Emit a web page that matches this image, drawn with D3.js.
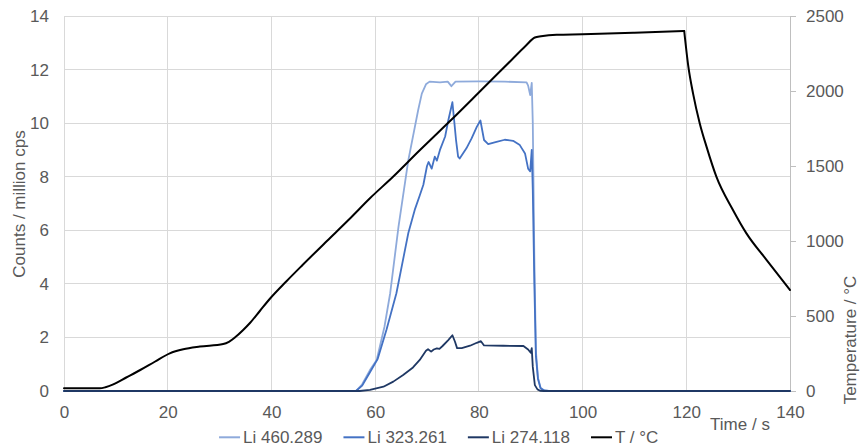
<!DOCTYPE html>
<html>
<head>
<meta charset="utf-8">
<script src="https://cdn.jsdelivr.net/npm/d3@7/dist/d3.min.js"></script>
<style>
  html, body { margin: 0; padding: 0; background: #fff; }
  svg { display: block; font-family: "Liberation Sans", Arial, sans-serif; }
</style>
</head>
<body>
<svg id="chart" width="860" height="446"></svg>
<script>
// Li emission intensities (million cps) and furnace temperature (°C) versus time (s)
const li460 = [[0,0],[56.3,0],[57.5,0.25],[59.0,0.78],[60.3,1.16],[61.8,2.4],[62.9,3.65],[64.5,6.13],[66.4,8.62],[68.3,10.49],[69.0,11.1],[69.8,11.45],[70.5,11.55],[72.5,11.52],[74.0,11.55],[74.7,11.38],[75.5,11.55],[80,11.56],[85,11.55],[89.2,11.52],[89.5,11.4],[89.9,11.05],[90.2,11.5],[90.4,10.0],[90.7,5.0],[91.0,1.5],[91.4,0.5],[91.9,0.12],[92.6,0.02],[93.5,0],[140,0]];

const li323 = [[0,0],[56.3,0],[57.5,0.2],[59.0,0.7],[60.5,1.2],[62.2,2.3],[64.1,3.65],[66.4,5.9],[67.7,6.8],[68.6,7.3],[69.3,7.7],[70.0,8.4],[70.3,8.55],[70.9,8.3],[71.5,8.75],[71.9,8.6],[72.5,9.0],[73.5,9.5],[74.1,10.1],[74.9,10.78],[75.2,10.18],[75.6,9.37],[76.0,8.75],[76.3,8.68],[77.6,9.06],[78.6,9.43],[79.6,9.86],[80.3,10.1],[81.0,9.37],[81.8,9.22],[83.4,9.3],[85.0,9.38],[86.6,9.34],[87.9,9.18],[88.9,8.87],[89.5,8.3],[89.9,8.2],[90.2,9.0],[90.4,7.5],[90.7,4.0],[91.0,1.3],[91.4,0.45],[91.9,0.1],[92.6,0.02],[93.5,0],[140,0]];

const li274 = [[0,0],[57,0],[59.0,0.04],[61.6,0.16],[63.5,0.35],[65.4,0.6],[67.3,0.88],[68.6,1.16],[69.8,1.5],[70.2,1.56],[70.8,1.47],[71.3,1.55],[71.9,1.59],[72.4,1.57],[73.0,1.68],[74.1,1.9],[74.9,2.08],[75.4,1.84],[75.8,1.6],[76.7,1.6],[78.3,1.69],[79.6,1.8],[80.4,1.86],[81.0,1.7],[84.7,1.69],[88.6,1.68],[89.5,1.55],[90.0,1.43],[90.2,1.6],[90.4,0.9],[90.8,0.22],[91.3,0.06],[91.8,0.01],[92.5,0],[140,0]];

const temperature = [[0,18],[6.9,18],[8,25],[9.5,44],[12,90],[14.7,140],[17.5,195],[20.4,251],[23,278],[26.2,296],[30.7,313],[31.8,328],[33,358],[34.5,405],[35.9,455],[37.8,535],[39.7,615],[42.9,732],[46,840],[50.7,1000],[55,1145],[59,1285],[63.5,1430],[68.6,1605],[72.5,1735],[75.1,1822],[80,1990],[86.3,2207],[89,2300],[90.8,2357],[92,2365],[95,2375],[100,2378],[110,2388],[119.6,2400],[120.4,2162],[121.3,1984],[122.6,1784],[123.9,1629],[125.8,1429],[129,1207],[131.6,1051],[135.5,873],[140,673]];

const seriesNames = ["Li 460.289", "Li 323.261", "Li 274.118", "T / °C"];
const seriesColors = ["#8eaadb", "#4472c4", "#1f3864", "#000000"];

const timeTicks = [0, 20, 40, 60, 80, 100, 120, 140];
const countTicks = [0, 2, 4, 6, 8, 10, 12, 14];
const tempTicks = [0, 500, 1000, 1500, 2000, 2500];

const svg = d3.select("#chart");
const plot = { left: 64, right: 790, top: 16, bottom: 391 };

const x = d3.scaleLinear().domain([0, 140]).range([plot.left, plot.right]);
const yL = d3.scaleLinear().domain([0, 14]).range([plot.bottom, plot.top]);
const yR = d3.scaleLinear().domain([0, 2500]).range([plot.bottom, plot.top]);

const textColor = "#595959";
const gridColor = "#d9d9d9";
const fmt = d3.format("d");

// gridlines
const grid = svg.append("g");
grid.selectAll("line.h").data(countTicks).join("line").attr("class", "h")
  .attr("x1", plot.left).attr("x2", plot.right)
  .attr("y1", d => yL(d)).attr("y2", d => yL(d))
  .attr("stroke", gridColor).attr("stroke-width", 1).attr("shape-rendering", "crispEdges");
grid.selectAll("line.v").data(timeTicks.slice(0, -1)).join("line").attr("class", "v")
  .attr("x1", d => x(d)).attr("x2", d => x(d))
  .attr("y1", plot.top).attr("y2", plot.bottom)
  .attr("stroke", gridColor).attr("stroke-width", 1).attr("shape-rendering", "crispEdges");

// axes
const axisLeft = svg.append("g").attr("transform", `translate(${plot.left},0)`)
  .call(d3.axisLeft(yL).tickValues(countTicks).tickFormat(fmt).tickSize(0).tickPadding(15));
const axisBottom = svg.append("g").attr("transform", `translate(0,${plot.bottom})`)
  .call(d3.axisBottom(x).tickValues(timeTicks).tickFormat(fmt).tickSize(0).tickPadding(15));
const axisRight = svg.append("g").attr("transform", `translate(${plot.right},0)`)
  .call(d3.axisRight(yR).tickValues(tempTicks).tickFormat(fmt).tickSize(6).tickSizeOuter(0).tickPadding(10));

[axisLeft, axisBottom].forEach(a => a.select(".domain").remove());
axisBottom.append("line").attr("x1", plot.left).attr("x2", plot.right).attr("y1", 0).attr("y2", 0)
  .attr("stroke", "#bfbfbf").attr("shape-rendering", "crispEdges");
axisRight.selectAll(".domain, .tick line").attr("stroke", "#bfbfbf").attr("shape-rendering", "crispEdges");
[axisLeft, axisBottom, axisRight].forEach(a => {
  a.selectAll("text").attr("fill", textColor).style("font-size", "17px")
    .style("font-family", "'Liberation Sans', Arial, sans-serif");
});

// series lines
const lineL = d3.line().x(d => x(d[0])).y(d => yL(d[1]));
const lineR = d3.line().x(d => x(d[0])).y(d => yR(d[1])).curve(d3.curveMonotoneX);
const lines = svg.append("g").attr("fill", "none").attr("stroke-linejoin", "round").attr("stroke-linecap", "round");
[li460, li323, li274].forEach((s, i) => {
  lines.append("path").attr("d", lineL(s)).attr("stroke", seriesColors[i]).attr("stroke-width", 1.8);
});
// temperature: heating/holding and cooling drawn as two smooth pieces joined at the peak
const peak = d3.maxIndex(temperature, d => d[1]);
[temperature.slice(0, peak + 1), temperature.slice(peak)].forEach(part => {
  lines.append("path").attr("d", lineR(part)).attr("stroke", seriesColors[3]).attr("stroke-width", 2);
});

// axis titles
svg.append("text").attr("transform", "translate(25,204) rotate(-90)")
  .attr("text-anchor", "middle").attr("fill", textColor).style("font-size", "17px")
  .text("Counts / million cps");
svg.append("text").attr("transform", "translate(855.5,340) rotate(-90)")
  .attr("text-anchor", "middle").attr("fill", textColor).style("font-size", "17px")
  .text("Temperature / °C");
svg.append("text").attr("x", 740).attr("y", 429.5)
  .attr("text-anchor", "middle").attr("fill", textColor).style("font-size", "17px")
  .text("Time / s");

// legend
const legend = svg.append("g");
const items = seriesNames.map((name, i) => {
  const g = legend.append("g");
  g.append("line").attr("x1", 0).attr("x2", 21).attr("y1", 0).attr("y2", 0)
    .attr("stroke", seriesColors[i]).attr("stroke-width", 2);
  const t = g.append("text").attr("x", 24).attr("y", 6).attr("fill", textColor)
    .style("font-size", "17px").text(name);
  return { g, w: 24 + t.node().getComputedTextLength() };
});
const gap = 21;
const total = d3.sum(items, d => d.w) + gap * (items.length - 1);
let cx = 438.7 - total / 2;
items.forEach(it => {
  it.g.attr("transform", `translate(${cx},437.3)`);
  cx += it.w + gap;
});
</script>
</body>
</html>
